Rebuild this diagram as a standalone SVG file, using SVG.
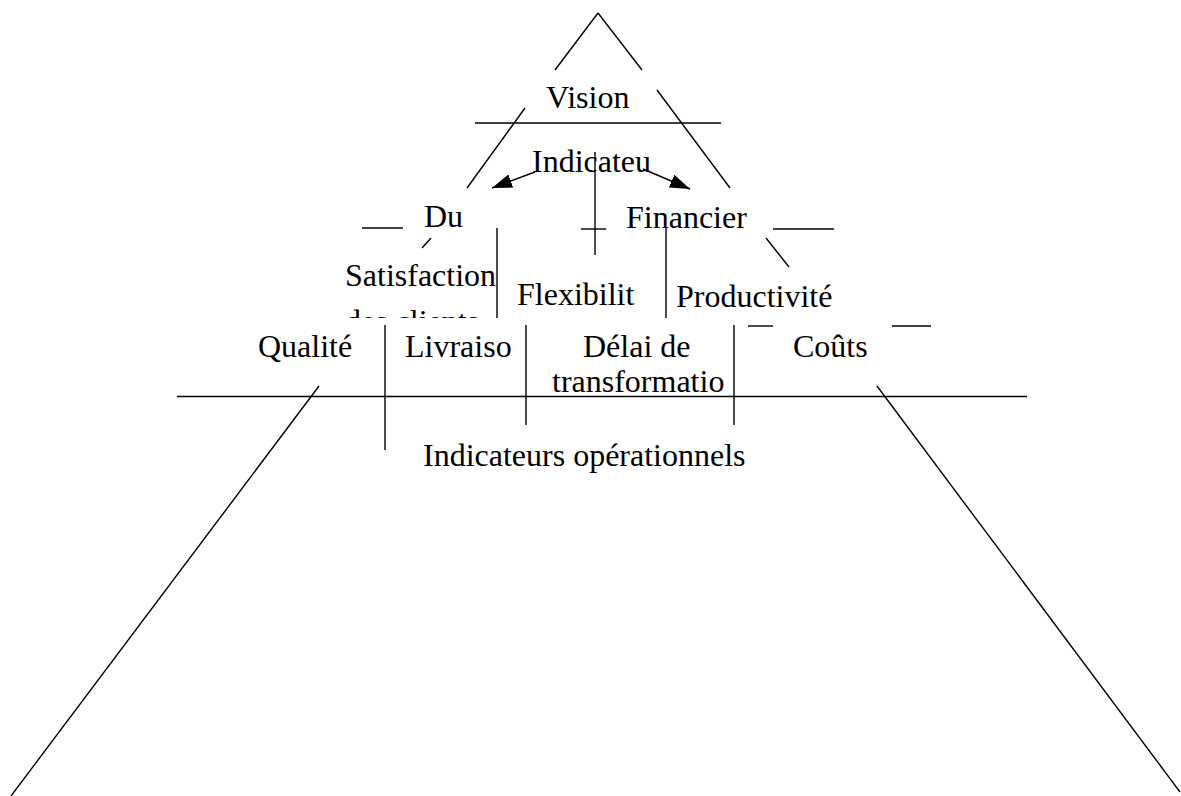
<svg xmlns="http://www.w3.org/2000/svg" width="1181" height="796" viewBox="0 0 1181 796">
<style>
  .ln { stroke:#000; stroke-width:1.4; fill:none; }
  .t { font-family:"Liberation Serif","Times New Roman",serif; font-size:32px; fill:#000; }
</style>
<defs>
  <marker id="ah" markerUnits="userSpaceOnUse" markerWidth="22" markerHeight="16" refX="20" refY="7" orient="auto">
    <path d="M0,0 L20,7 L0,14 Z" fill="#000"/>
  </marker>
  <clipPath id="clipSat"><rect x="330" y="240" width="170" height="78"/></clipPath>
</defs>
<rect width="1181" height="796" fill="#fff"/>
<g id="connectors">
  <line class="ln" x1="598" y1="13" x2="555" y2="70"/>
  <line class="ln" x1="598" y1="13" x2="642" y2="70"/>
  <line class="ln" x1="525" y1="108" x2="467" y2="188"/>
  <line class="ln" x1="657" y1="90" x2="730" y2="188"/>
  <line class="ln" x1="475" y1="123" x2="721" y2="123"/>
  <line class="ln" x1="595" y1="152" x2="595" y2="255"/>
  <line class="ln" x1="581" y1="229" x2="606" y2="229"/>
  <line class="ln" x1="535" y1="172" x2="492" y2="188" stroke-width="2.5" marker-end="url(#ah)"/>
  <line class="ln" x1="643" y1="169" x2="690" y2="189" stroke-width="2.5" marker-end="url(#ah)"/>
  <line class="ln" x1="362" y1="228" x2="403" y2="228"/>
  <line class="ln" x1="431" y1="238" x2="422" y2="248"/>
  <line class="ln" x1="497" y1="228" x2="497" y2="318"/>
  <line class="ln" x1="666" y1="228" x2="666" y2="318"/>
  <line class="ln" x1="773" y1="229" x2="834" y2="229"/>
  <line class="ln" x1="766" y1="238" x2="789" y2="267"/>
  <line class="ln" x1="385" y1="325" x2="385" y2="450"/>
  <line class="ln" x1="526" y1="325" x2="526" y2="425"/>
  <line class="ln" x1="734" y1="325" x2="734" y2="425"/>
  <line class="ln" x1="748" y1="326" x2="773" y2="326"/>
  <line class="ln" x1="892" y1="326" x2="931" y2="326"/>
  <line class="ln" x1="177" y1="396.5" x2="1027" y2="396.5" stroke-width="1.8"/>
  <line class="ln" x1="319" y1="386" x2="11" y2="796"/>
  <line class="ln" x1="877" y1="386" x2="1180" y2="792"/>
</g>
<g id="vision"><text class="t" x="546" y="108">Vision</text></g>
<g id="indicateu"><text class="t" x="532" y="172">Indicateu</text></g>
<g id="du"><text class="t" x="424" y="227">Du</text></g>
<g id="financier"><text class="t" x="626" y="228">Financier</text></g>
<g id="satisfaction" clip-path="url(#clipSat)">
  <text class="t" x="345" y="286">Satisfaction</text>
  <text class="t" x="345" y="332">des clients</text>
</g>
<g id="flexibilite"><text class="t" x="517" y="305">Flexibilit</text></g>
<g id="productivite"><text class="t" x="676" y="307">Productivité</text></g>
<g id="qualite"><text class="t" x="258" y="357">Qualité</text></g>
<g id="livraison"><text class="t" x="405" y="357">Livraiso</text></g>
<g id="delai">
  <text class="t" x="583" y="357">Délai de</text>
  <text class="t" x="552" y="392">transformatio</text>
</g>
<g id="couts"><text class="t" x="793" y="357">Coûts</text></g>
<g id="operationnels"><text class="t" x="423" y="466">Indicateurs opérationnels</text></g>
</svg>
